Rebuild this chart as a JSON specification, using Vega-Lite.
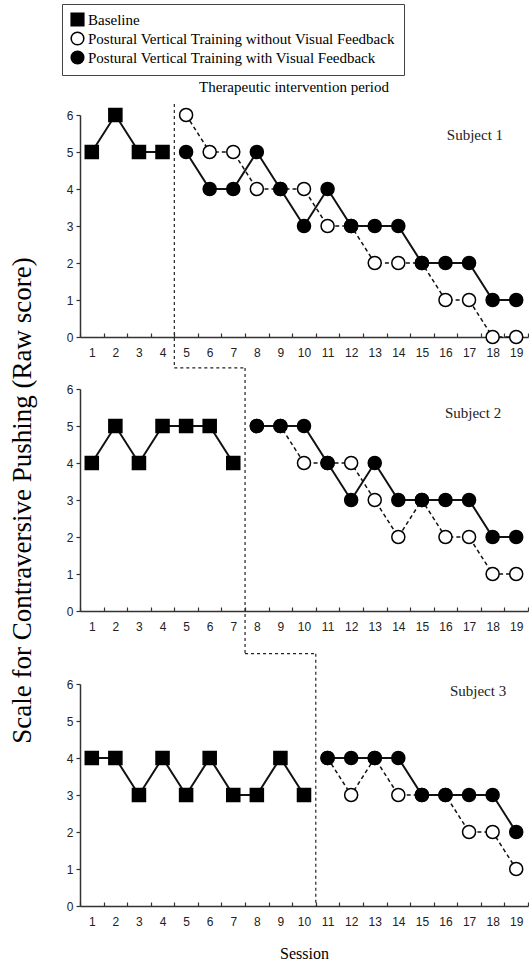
{
  "$schema": "https://vega.github.io/schema/vega-lite/v6.json",
  "padding": {"left": 8, "top": 3, "right": 0, "bottom": 0},
  "background": "white",
  "config": {
    "view": {"stroke": null},
    "font": "Liberation Serif",
    "axis": {"domainColor": "#333", "domainWidth": 1.5, "tickColor": "#333", "tickWidth": 1.2, "labelFont": "Liberation Sans", "labelFontSize": 12, "labelColor": "#222", "titleFont": "Liberation Serif", "titleFontWeight": "normal", "titleColor": "black", "grid": false},
    "legend": {"orient": "none", "legendX": -18, "legendY": -111, "title": null, "direction": "vertical", "strokeColor": "#444", "padding": 8, "labelFont": "Liberation Serif", "labelFontSize": 15, "labelColor": "black", "symbolSize": 160, "symbolStrokeWidth": 1.5, "rowPadding": 0, "labelLimit": 800, "labelOffset": 3}
  },
  "datasets": {
    "scores": [
      {"subject": 1, "session": 1, "condition": "Baseline", "score": 5},
      {"subject": 1, "session": 2, "condition": "Baseline", "score": 6},
      {"subject": 1, "session": 3, "condition": "Baseline", "score": 5},
      {"subject": 1, "session": 4, "condition": "Baseline", "score": 5},
      {"subject": 1, "session": 5, "condition": "Postural Vertical Training without Visual Feedback", "score": 6},
      {"subject": 1, "session": 6, "condition": "Postural Vertical Training without Visual Feedback", "score": 5},
      {"subject": 1, "session": 7, "condition": "Postural Vertical Training without Visual Feedback", "score": 5},
      {"subject": 1, "session": 8, "condition": "Postural Vertical Training without Visual Feedback", "score": 4},
      {"subject": 1, "session": 9, "condition": "Postural Vertical Training without Visual Feedback", "score": 4},
      {"subject": 1, "session": 10, "condition": "Postural Vertical Training without Visual Feedback", "score": 4},
      {"subject": 1, "session": 11, "condition": "Postural Vertical Training without Visual Feedback", "score": 3},
      {"subject": 1, "session": 12, "condition": "Postural Vertical Training without Visual Feedback", "score": 3},
      {"subject": 1, "session": 13, "condition": "Postural Vertical Training without Visual Feedback", "score": 2},
      {"subject": 1, "session": 14, "condition": "Postural Vertical Training without Visual Feedback", "score": 2},
      {"subject": 1, "session": 15, "condition": "Postural Vertical Training without Visual Feedback", "score": 2},
      {"subject": 1, "session": 16, "condition": "Postural Vertical Training without Visual Feedback", "score": 1},
      {"subject": 1, "session": 17, "condition": "Postural Vertical Training without Visual Feedback", "score": 1},
      {"subject": 1, "session": 18, "condition": "Postural Vertical Training without Visual Feedback", "score": 0},
      {"subject": 1, "session": 19, "condition": "Postural Vertical Training without Visual Feedback", "score": 0},
      {"subject": 1, "session": 5, "condition": "Postural Vertical Training with Visual Feedback", "score": 5},
      {"subject": 1, "session": 6, "condition": "Postural Vertical Training with Visual Feedback", "score": 4},
      {"subject": 1, "session": 7, "condition": "Postural Vertical Training with Visual Feedback", "score": 4},
      {"subject": 1, "session": 8, "condition": "Postural Vertical Training with Visual Feedback", "score": 5},
      {"subject": 1, "session": 9, "condition": "Postural Vertical Training with Visual Feedback", "score": 4},
      {"subject": 1, "session": 10, "condition": "Postural Vertical Training with Visual Feedback", "score": 3},
      {"subject": 1, "session": 11, "condition": "Postural Vertical Training with Visual Feedback", "score": 4},
      {"subject": 1, "session": 12, "condition": "Postural Vertical Training with Visual Feedback", "score": 3},
      {"subject": 1, "session": 13, "condition": "Postural Vertical Training with Visual Feedback", "score": 3},
      {"subject": 1, "session": 14, "condition": "Postural Vertical Training with Visual Feedback", "score": 3},
      {"subject": 1, "session": 15, "condition": "Postural Vertical Training with Visual Feedback", "score": 2},
      {"subject": 1, "session": 16, "condition": "Postural Vertical Training with Visual Feedback", "score": 2},
      {"subject": 1, "session": 17, "condition": "Postural Vertical Training with Visual Feedback", "score": 2},
      {"subject": 1, "session": 18, "condition": "Postural Vertical Training with Visual Feedback", "score": 1},
      {"subject": 1, "session": 19, "condition": "Postural Vertical Training with Visual Feedback", "score": 1},
      {"subject": 2, "session": 1, "condition": "Baseline", "score": 4},
      {"subject": 2, "session": 2, "condition": "Baseline", "score": 5},
      {"subject": 2, "session": 3, "condition": "Baseline", "score": 4},
      {"subject": 2, "session": 4, "condition": "Baseline", "score": 5},
      {"subject": 2, "session": 5, "condition": "Baseline", "score": 5},
      {"subject": 2, "session": 6, "condition": "Baseline", "score": 5},
      {"subject": 2, "session": 7, "condition": "Baseline", "score": 4},
      {"subject": 2, "session": 8, "condition": "Postural Vertical Training without Visual Feedback", "score": 5},
      {"subject": 2, "session": 9, "condition": "Postural Vertical Training without Visual Feedback", "score": 5},
      {"subject": 2, "session": 10, "condition": "Postural Vertical Training without Visual Feedback", "score": 4},
      {"subject": 2, "session": 11, "condition": "Postural Vertical Training without Visual Feedback", "score": 4},
      {"subject": 2, "session": 12, "condition": "Postural Vertical Training without Visual Feedback", "score": 4},
      {"subject": 2, "session": 13, "condition": "Postural Vertical Training without Visual Feedback", "score": 3},
      {"subject": 2, "session": 14, "condition": "Postural Vertical Training without Visual Feedback", "score": 2},
      {"subject": 2, "session": 15, "condition": "Postural Vertical Training without Visual Feedback", "score": 3},
      {"subject": 2, "session": 16, "condition": "Postural Vertical Training without Visual Feedback", "score": 2},
      {"subject": 2, "session": 17, "condition": "Postural Vertical Training without Visual Feedback", "score": 2},
      {"subject": 2, "session": 18, "condition": "Postural Vertical Training without Visual Feedback", "score": 1},
      {"subject": 2, "session": 19, "condition": "Postural Vertical Training without Visual Feedback", "score": 1},
      {"subject": 2, "session": 8, "condition": "Postural Vertical Training with Visual Feedback", "score": 5},
      {"subject": 2, "session": 9, "condition": "Postural Vertical Training with Visual Feedback", "score": 5},
      {"subject": 2, "session": 10, "condition": "Postural Vertical Training with Visual Feedback", "score": 5},
      {"subject": 2, "session": 11, "condition": "Postural Vertical Training with Visual Feedback", "score": 4},
      {"subject": 2, "session": 12, "condition": "Postural Vertical Training with Visual Feedback", "score": 3},
      {"subject": 2, "session": 13, "condition": "Postural Vertical Training with Visual Feedback", "score": 4},
      {"subject": 2, "session": 14, "condition": "Postural Vertical Training with Visual Feedback", "score": 3},
      {"subject": 2, "session": 15, "condition": "Postural Vertical Training with Visual Feedback", "score": 3},
      {"subject": 2, "session": 16, "condition": "Postural Vertical Training with Visual Feedback", "score": 3},
      {"subject": 2, "session": 17, "condition": "Postural Vertical Training with Visual Feedback", "score": 3},
      {"subject": 2, "session": 18, "condition": "Postural Vertical Training with Visual Feedback", "score": 2},
      {"subject": 2, "session": 19, "condition": "Postural Vertical Training with Visual Feedback", "score": 2},
      {"subject": 3, "session": 1, "condition": "Baseline", "score": 4},
      {"subject": 3, "session": 2, "condition": "Baseline", "score": 4},
      {"subject": 3, "session": 3, "condition": "Baseline", "score": 3},
      {"subject": 3, "session": 4, "condition": "Baseline", "score": 4},
      {"subject": 3, "session": 5, "condition": "Baseline", "score": 3},
      {"subject": 3, "session": 6, "condition": "Baseline", "score": 4},
      {"subject": 3, "session": 7, "condition": "Baseline", "score": 3},
      {"subject": 3, "session": 8, "condition": "Baseline", "score": 3},
      {"subject": 3, "session": 9, "condition": "Baseline", "score": 4},
      {"subject": 3, "session": 10, "condition": "Baseline", "score": 3},
      {"subject": 3, "session": 11, "condition": "Postural Vertical Training without Visual Feedback", "score": 4},
      {"subject": 3, "session": 12, "condition": "Postural Vertical Training without Visual Feedback", "score": 3},
      {"subject": 3, "session": 13, "condition": "Postural Vertical Training without Visual Feedback", "score": 4},
      {"subject": 3, "session": 14, "condition": "Postural Vertical Training without Visual Feedback", "score": 3},
      {"subject": 3, "session": 15, "condition": "Postural Vertical Training without Visual Feedback", "score": 3},
      {"subject": 3, "session": 16, "condition": "Postural Vertical Training without Visual Feedback", "score": 3},
      {"subject": 3, "session": 17, "condition": "Postural Vertical Training without Visual Feedback", "score": 2},
      {"subject": 3, "session": 18, "condition": "Postural Vertical Training without Visual Feedback", "score": 2},
      {"subject": 3, "session": 19, "condition": "Postural Vertical Training without Visual Feedback", "score": 1},
      {"subject": 3, "session": 11, "condition": "Postural Vertical Training with Visual Feedback", "score": 4},
      {"subject": 3, "session": 12, "condition": "Postural Vertical Training with Visual Feedback", "score": 4},
      {"subject": 3, "session": 13, "condition": "Postural Vertical Training with Visual Feedback", "score": 4},
      {"subject": 3, "session": 14, "condition": "Postural Vertical Training with Visual Feedback", "score": 4},
      {"subject": 3, "session": 15, "condition": "Postural Vertical Training with Visual Feedback", "score": 3},
      {"subject": 3, "session": 16, "condition": "Postural Vertical Training with Visual Feedback", "score": 3},
      {"subject": 3, "session": 17, "condition": "Postural Vertical Training with Visual Feedback", "score": 3},
      {"subject": 3, "session": 18, "condition": "Postural Vertical Training with Visual Feedback", "score": 3},
      {"subject": 3, "session": 19, "condition": "Postural Vertical Training with Visual Feedback", "score": 2}
    ],
    "phases": [
      {"subject": 1, "session": 4.5, "previous": 4.5, "upper": 6.3, "lower": -0.84},
      {"subject": 2, "session": 7.5, "previous": 4.5, "upper": 6.57, "lower": -1.16},
      {"subject": 3, "session": 10.5, "previous": 7.5, "upper": 6.82, "lower": 0}
    ],
    "labels": [
      {"subject": 1, "label": "Subject 1", "session": 17.25, "score": 5.46},
      {"subject": 2, "label": "Subject 2", "session": 17.17, "score": 5.35},
      {"subject": 3, "label": "Subject 3", "session": 17.38, "score": 5.81}
    ]
  },
  "bounds": "flush",
  "spacing": 52,
  "vconcat": [
    {
      "width": 448, "height": 222,
      "title": {"text": "Therapeutic intervention period", "fontSize": 15, "font": "Liberation Serif", "fontWeight": "normal", "color": "black", "anchor": "middle", "dx": -10, "offset": 8},
      "encoding": {
        "x": {"field": "session", "type": "quantitative", "scale": {"domain": [0.5, 19.5], "nice": false, "zero": false}, "axis": {"title": null, "values": [0.5,1,1.5,2,2.5,3,3.5,4,4.5,5,5.5,6,6.5,7,7.5,8,8.5,9,9.5,10,10.5,11,11.5,12,12.5,13,13.5,14,14.5,15,15.5,16,16.5,17,17.5,18,18.5,19,19.5], "labelExpr": "datum.value % 1 === 0 ? datum.value : ''", "tickOpacity": {"condition": {"test": "datum.value % 1 === 0", "value": 0}, "value": 1}, "tickSize": -4, "labelPadding": 14, "labelOverlap": false, "labelFlush": false}},
        "y": {"field": "score", "type": "quantitative", "scale": {"domain": [0, 6], "nice": false}, "axis": {"title": null, "values": [0,1,2,3,4,5,6], "tickSize": 4, "labelPadding": 3}}
      },
      "layer": [
        {"data": {"name": "phases"}, "transform": [{"filter": "datum.subject === 1"}], "mark": {"type": "rule", "strokeDash": [3, 3], "strokeWidth": 1.2, "color": "#222", "clip": false}, "encoding": {"y": {"field": "upper", "type": "quantitative"}, "y2": {"field": "lower"}}},
        {"data": {"name": "scores"}, "transform": [{"filter": "datum.subject === 1 && datum.condition !== 'Postural Vertical Training without Visual Feedback'"}], "mark": {"type": "line", "strokeWidth": 2, "color": "#111"}, "encoding": {"detail": {"field": "condition"}}},
        {"data": {"name": "scores"}, "transform": [{"filter": "datum.subject === 1 && datum.condition === 'Postural Vertical Training without Visual Feedback'"}], "mark": {"type": "line", "strokeWidth": 1.5, "strokeDash": [4, 3], "color": "#111"}, "encoding": {}},
        {"data": {"name": "scores"}, "transform": [{"filter": "datum.subject === 1"}], "mark": {"type": "point", "filled": true, "strokeWidth": 1.5, "size": 170, "opacity": 1}, "encoding": {"shape": {"field": "condition", "type": "nominal", "scale": {"domain": ["Baseline", "Postural Vertical Training without Visual Feedback", "Postural Vertical Training with Visual Feedback"], "range": ["square", "circle", "circle"]}}, "fill": {"field": "condition", "type": "nominal", "scale": {"domain": ["Baseline", "Postural Vertical Training without Visual Feedback", "Postural Vertical Training with Visual Feedback"], "range": ["black", "white", "black"]}}, "stroke": {"field": "condition", "type": "nominal", "scale": {"domain": ["Baseline", "Postural Vertical Training without Visual Feedback", "Postural Vertical Training with Visual Feedback"], "range": ["black", "black", "black"]}}}},
        {"data": {"name": "labels"}, "transform": [{"filter": "datum.subject === 1"}], "mark": {"type": "text", "fontSize": 15, "font": "Liberation Serif", "color": "#222", "align": "center", "baseline": "middle"}, "encoding": {"text": {"field": "label"}}}
      ]
    },
    {
      "bounds": "flush",
      "spacing": 73,
      "vconcat": [
        {
          "width": 448, "height": 222,
          "encoding": {
            "x": {"field": "session", "type": "quantitative", "scale": {"domain": [0.5, 19.5], "nice": false, "zero": false}, "axis": {"title": null, "values": [0.5,1,1.5,2,2.5,3,3.5,4,4.5,5,5.5,6,6.5,7,7.5,8,8.5,9,9.5,10,10.5,11,11.5,12,12.5,13,13.5,14,14.5,15,15.5,16,16.5,17,17.5,18,18.5,19,19.5], "labelExpr": "datum.value % 1 === 0 ? datum.value : ''", "tickOpacity": {"condition": {"test": "datum.value % 1 === 0", "value": 0}, "value": 1}, "tickSize": -4, "labelPadding": 14, "labelOverlap": false, "labelFlush": false}},
            "y": {"field": "score", "type": "quantitative", "scale": {"domain": [0, 6], "nice": false}, "axis": {"title": "Scale for Contraversive Pushing (Raw score)", "titleFontSize": 27, "titlePadding": 30, "values": [0,1,2,3,4,5,6], "tickSize": 4, "labelPadding": 3}}
          },
          "layer": [
            {"data": {"name": "phases"}, "transform": [{"filter": "datum.subject === 2"}], "mark": {"type": "rule", "strokeDash": [3, 3], "strokeWidth": 1.2, "color": "#222", "clip": false}, "encoding": {"x": {"field": "previous", "type": "quantitative"}, "x2": {"field": "session"}, "y": {"field": "upper", "type": "quantitative"}}},
            {"data": {"name": "phases"}, "transform": [{"filter": "datum.subject === 2"}], "mark": {"type": "rule", "strokeDash": [3, 3], "strokeWidth": 1.2, "color": "#222", "clip": false}, "encoding": {"y": {"field": "upper", "type": "quantitative"}, "y2": {"field": "lower"}}},
            {"data": {"name": "scores"}, "transform": [{"filter": "datum.subject === 2 && datum.condition !== 'Postural Vertical Training without Visual Feedback'"}], "mark": {"type": "line", "strokeWidth": 2, "color": "#111"}, "encoding": {"detail": {"field": "condition"}}},
            {"data": {"name": "scores"}, "transform": [{"filter": "datum.subject === 2 && datum.condition === 'Postural Vertical Training without Visual Feedback'"}], "mark": {"type": "line", "strokeWidth": 1.5, "strokeDash": [4, 3], "color": "#111"}, "encoding": {}},
            {"data": {"name": "scores"}, "transform": [{"filter": "datum.subject === 2"}], "mark": {"type": "point", "filled": true, "strokeWidth": 1.5, "size": 170, "opacity": 1}, "encoding": {"shape": {"field": "condition", "type": "nominal", "scale": {"domain": ["Baseline", "Postural Vertical Training without Visual Feedback", "Postural Vertical Training with Visual Feedback"], "range": ["square", "circle", "circle"]}}, "fill": {"field": "condition", "type": "nominal", "scale": {"domain": ["Baseline", "Postural Vertical Training without Visual Feedback", "Postural Vertical Training with Visual Feedback"], "range": ["black", "white", "black"]}}, "stroke": {"field": "condition", "type": "nominal", "scale": {"domain": ["Baseline", "Postural Vertical Training without Visual Feedback", "Postural Vertical Training with Visual Feedback"], "range": ["black", "black", "black"]}}}},
            {"data": {"name": "labels"}, "transform": [{"filter": "datum.subject === 2"}], "mark": {"type": "text", "fontSize": 15, "font": "Liberation Serif", "color": "#222", "align": "center", "baseline": "middle"}, "encoding": {"text": {"field": "label"}}}
          ]
        },
        {
          "width": 448, "height": 222,
          "encoding": {
            "x": {"field": "session", "type": "quantitative", "scale": {"domain": [0.5, 19.5], "nice": false, "zero": false}, "axis": {"title": "Session", "titleFontSize": 16, "titlePadding": 18, "values": [0.5,1,1.5,2,2.5,3,3.5,4,4.5,5,5.5,6,6.5,7,7.5,8,8.5,9,9.5,10,10.5,11,11.5,12,12.5,13,13.5,14,14.5,15,15.5,16,16.5,17,17.5,18,18.5,19,19.5], "labelExpr": "datum.value % 1 === 0 ? datum.value : ''", "tickOpacity": {"condition": {"test": "datum.value % 1 === 0", "value": 0}, "value": 1}, "tickSize": -4, "labelPadding": 14, "labelOverlap": false, "labelFlush": false}},
            "y": {"field": "score", "type": "quantitative", "scale": {"domain": [0, 6], "nice": false}, "axis": {"title": null, "values": [0,1,2,3,4,5,6], "tickSize": 4, "labelPadding": 3}}
          },
          "layer": [
            {"data": {"name": "phases"}, "transform": [{"filter": "datum.subject === 3"}], "mark": {"type": "rule", "strokeDash": [3, 3], "strokeWidth": 1.2, "color": "#222", "clip": false}, "encoding": {"x": {"field": "previous", "type": "quantitative"}, "x2": {"field": "session"}, "y": {"field": "upper", "type": "quantitative"}}},
            {"data": {"name": "phases"}, "transform": [{"filter": "datum.subject === 3"}], "mark": {"type": "rule", "strokeDash": [3, 3], "strokeWidth": 1.2, "color": "#222", "clip": false}, "encoding": {"y": {"field": "upper", "type": "quantitative"}, "y2": {"field": "lower"}}},
            {"data": {"name": "scores"}, "transform": [{"filter": "datum.subject === 3 && datum.condition !== 'Postural Vertical Training without Visual Feedback'"}], "mark": {"type": "line", "strokeWidth": 2, "color": "#111"}, "encoding": {"detail": {"field": "condition"}}},
            {"data": {"name": "scores"}, "transform": [{"filter": "datum.subject === 3 && datum.condition === 'Postural Vertical Training without Visual Feedback'"}], "mark": {"type": "line", "strokeWidth": 1.5, "strokeDash": [4, 3], "color": "#111"}, "encoding": {}},
            {"data": {"name": "scores"}, "transform": [{"filter": "datum.subject === 3"}], "mark": {"type": "point", "filled": true, "strokeWidth": 1.5, "size": 170, "opacity": 1}, "encoding": {"shape": {"field": "condition", "type": "nominal", "scale": {"domain": ["Baseline", "Postural Vertical Training without Visual Feedback", "Postural Vertical Training with Visual Feedback"], "range": ["square", "circle", "circle"]}}, "fill": {"field": "condition", "type": "nominal", "scale": {"domain": ["Baseline", "Postural Vertical Training without Visual Feedback", "Postural Vertical Training with Visual Feedback"], "range": ["black", "white", "black"]}}, "stroke": {"field": "condition", "type": "nominal", "scale": {"domain": ["Baseline", "Postural Vertical Training without Visual Feedback", "Postural Vertical Training with Visual Feedback"], "range": ["black", "black", "black"]}}}},
            {"data": {"name": "labels"}, "transform": [{"filter": "datum.subject === 3"}], "mark": {"type": "text", "fontSize": 15, "font": "Liberation Serif", "color": "#222", "align": "center", "baseline": "middle"}, "encoding": {"text": {"field": "label"}}}
          ]
        }
      ]
    }
  ]
}
